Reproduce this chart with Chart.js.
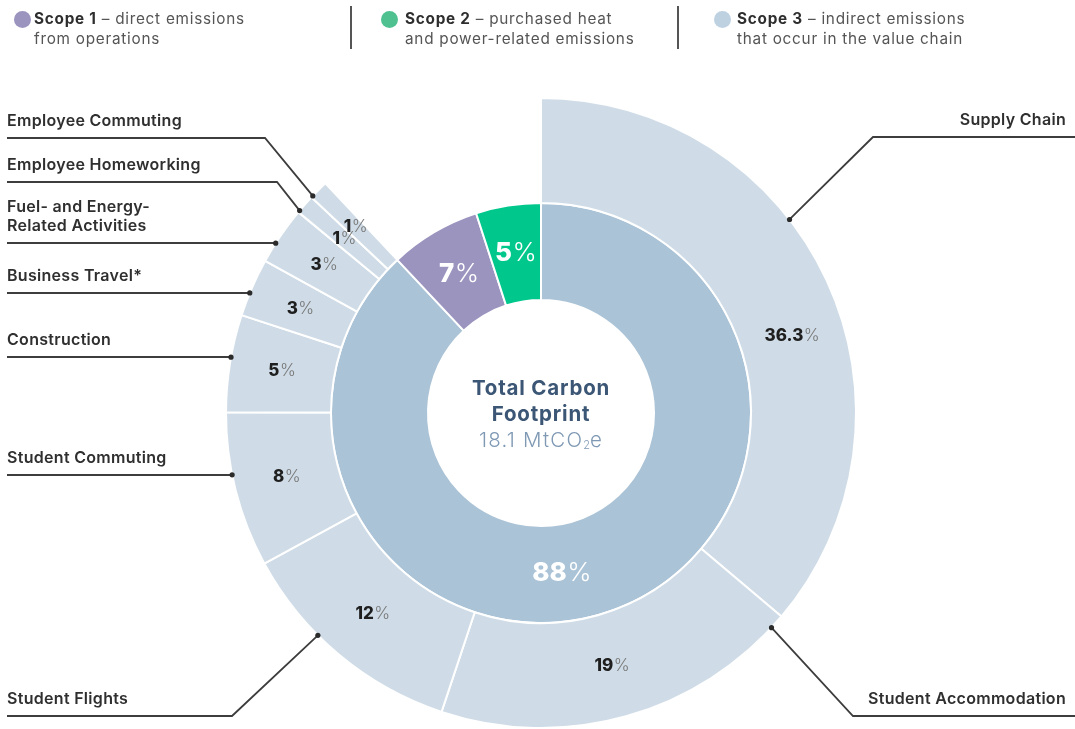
<!DOCTYPE html>
<html lang="en">
<head>
<meta charset="UTF-8">
<meta name="viewport" content="width=device-width, initial-scale=1.0">
<title>Total Carbon Footprint</title>
<script src="https://cdn.jsdelivr.net/npm/chart.js"></script>
<style>
    body { margin: 0; background: #fff; font-family: Inter, "Noto Sans", sans-serif; }
    #wrap { position: relative; width: 1075px; height: 729px; overflow: hidden; }
    #grafico { position: absolute; left: 0; top: 0; }
    .leg { position: absolute; top: 9px; font-size: 15.3px; line-height: 20px; letter-spacing: 0.75px; color: #555; white-space: nowrap; }
    .leg b { color: #2e2e2e; font-weight: 700; }
    .bola { position: absolute; top: 11px; width: 17px; height: 17px; border-radius: 50%; }
    .sep { position: absolute; top: 6px; width: 2px; height: 43px; background: #555; }
    #centro { position: absolute; left: 421px; top: 375px; width: 240px; text-align: center; font-size: 20.5px; line-height: 26px; }
    #centro .t { color: #3c5675; font-weight: 700; letter-spacing: 0.8px; }
    #centro .v { color: #7f99b4; font-weight: 300; letter-spacing: 1.2px; }
    #centro sub { font-size: 11px; vertical-align: -2px; letter-spacing: 0; }
</style>
</head>
<body>
<div id="wrap">
    <canvas id="grafico" width="1075" height="729"></canvas>

    <div class="bola" style="left:14px; background:#9b94bf"></div>
    <div class="leg" style="left:34px"><b>Scope 1</b> – direct emissions<br>from operations</div>
    <div class="sep" style="left:350px"></div>
    <div class="bola" style="left:381px; background:#4fc191"></div>
    <div class="leg" style="left:405px"><b>Scope 2</b> – purchased heat<br>and power-related emissions</div>
    <div class="sep" style="left:677px"></div>
    <div class="bola" style="left:714px; background:#bed1e1"></div>
    <div class="leg" style="left:737px"><b>Scope 3</b> – indirect emissions<br>that occur in the value chain</div>

    <div id="centro">
        <div class="t">Total Carbon<br>Footprint</div>
        <div class="v">18.1 MtCO<sub>2</sub>e</div>
    </div>
</div>

<script>
    // inner ring: scopes (% of total)
    const escopos = ['Scope 3', 'Scope 1', 'Scope 2'];
    const escopoValores = [88, 7, 5];
    const escopoCores = ['#abc3d6', '#9b94bf', '#00c88c'];
    const escopoLabelPos = [0.545, 0.5, 0.5];

    // outer ring: scope 3 categories (% of total)
    // frac = where the leader line touches the slice, lineY/elbowX = label layout
    const categorias = [
        { nome: ['Supply Chain'], valor: 36.3, lado: 'right', frac: 0.40, lineY: 137, elbowX: 873, pctPos: 0.56 },
        { nome: ['Student Accommodation'], valor: 19, lado: 'right', frac: 0.04, lineY: 716, elbowX: 853 },
        { nome: ['Student Flights'], valor: 12, lado: 'left', frac: 0.62, lineY: 716, elbowX: 232 },
        { nome: ['Student Commuting'], valor: 8, lado: 'left', frac: 0.6 },
        { nome: ['Construction'], valor: 5, lado: 'left', frac: 0.56 },
        { nome: ['Business Travel*'], valor: 3, lado: 'left', frac: 0.4 },
        { nome: ['Fuel- and Energy-', 'Related Activities'], valor: 3, lado: 'left', frac: 0.35 },
        { nome: ['Employee Homeworking'], valor: 1, lado: 'left', frac: 0.1, lineY: 182, elbowX: 277 },
        { nome: ['Employee Commuting'], valor: 1, lado: 'left', frac: 0.1, lineY: 138, elbowX: 265 }
    ];

    function pct(ctx, num, x, y, size, corNum, corPct) {
        const fb = `800 ${size}px Inter`;
        const fl = `300 ${size}px Inter`;
        ctx.font = fb;
        const w1 = ctx.measureText(num).width;
        ctx.font = fl;
        const w2 = ctx.measureText('%').width;
        const x0 = x - (w1 + w2) / 2;
        ctx.textAlign = 'left';
        ctx.textBaseline = 'middle';
        ctx.font = fb;
        ctx.fillStyle = corNum;
        ctx.fillText(num, x0, y);
        ctx.font = fl;
        ctx.fillStyle = corPct;
        ctx.fillText('%', x0 + w1 + 0.5, y);
    }

    function ponto(arc, f, r) {
        const a = arc.startAngle + (arc.endAngle - arc.startAngle) * f;
        return { x: arc.x + Math.cos(a) * r, y: arc.y + Math.sin(a) * r };
    }

    const rotulos = {
        id: 'rotulos',
        afterDatasetsDraw(chart) {
            const ctx = chart.ctx;
            const externos = chart.getDatasetMeta(0).data;
            const internos = chart.getDatasetMeta(1).data;
            ctx.save();

            // leader lines + category names
            categorias.forEach((c, i) => {
                const arc = externos[i];
                const p = ponto(arc, c.frac, arc.outerRadius);
                const y = c.lineY !== undefined ? c.lineY : Math.round(p.y);
                const ex = c.elbowX !== undefined ? c.elbowX : p.x;
                ctx.strokeStyle = '#3d3d3d';
                ctx.lineWidth = 1.8;
                ctx.beginPath();
                if (c.lado === 'left') {
                    ctx.moveTo(7, y);
                } else {
                    ctx.moveTo(1075, y);
                }
                ctx.lineTo(ex, y);
                ctx.lineTo(p.x, p.y);
                ctx.stroke();
                ctx.fillStyle = '#2b2b2b';
                ctx.beginPath();
                ctx.arc(p.x, p.y, 2.6, 0, Math.PI * 2);
                ctx.fill();

                ctx.font = '600 16px Inter';
                ctx.letterSpacing = '0.3px';
                ctx.fillStyle = '#2f2f2f';
                ctx.textBaseline = 'middle';
                ctx.textAlign = c.lado === 'left' ? 'left' : 'right';
                const tx = c.lado === 'left' ? 7 : 1066;
                const n = c.nome.length;
                c.nome.forEach((linha, k) => {
                    ctx.fillText(linha, tx, y - 17 - (n - 1 - k) * 19);
                });
                ctx.letterSpacing = '0px';
            });

            // outer percentages
            categorias.forEach((c, i) => {
                const arc = externos[i];
                const p = ponto(arc, c.pctPos || 0.5, (arc.innerRadius + arc.outerRadius) / 2);
                pct(ctx, String(c.valor), p.x, p.y, 17, '#1f1f1f', '#777777');
            });

            // inner percentages
            escopoValores.forEach((v, i) => {
                const arc = internos[i];
                const p = ponto(arc, escopoLabelPos[i], (arc.innerRadius + arc.outerRadius) / 2);
                pct(ctx, String(v), p.x, p.y, 26, '#ffffff', '#ffffff');
            });

            ctx.restore();
        }
    };

    const ctx = document.getElementById('grafico').getContext('2d');
    new Chart(ctx, {
        type: 'doughnut',
        data: {
            labels: categorias.map(c => c.nome.join(' ')),
            datasets: [
                {
                    label: 'Scope 3 categories',
                    data: categorias.map(c => c.valor),
                    backgroundColor: '#cfdce7',
                    borderColor: '#ffffff',
                    borderWidth: 2,
                    // outer ring only spans the Scope 3 share of the inner ring
                    circumference: 360 * escopoValores[0] / 100,
                    weight: 105
                },
                {
                    label: 'Scopes',
                    data: escopoValores,
                    backgroundColor: escopoCores,
                    borderColor: '#ffffff',
                    borderWidth: 2,
                    weight: 97
                }
            ]
        },
        options: {
            responsive: false,
            animation: false,
            cutout: 113,
            layout: { padding: { top: 97, bottom: 0, left: 225, right: 218 } },
            plugins: {
                legend: { display: false },
                tooltip: { enabled: false }
            }
        },
        plugins: [rotulos]
    });
</script>
</body>
</html>
